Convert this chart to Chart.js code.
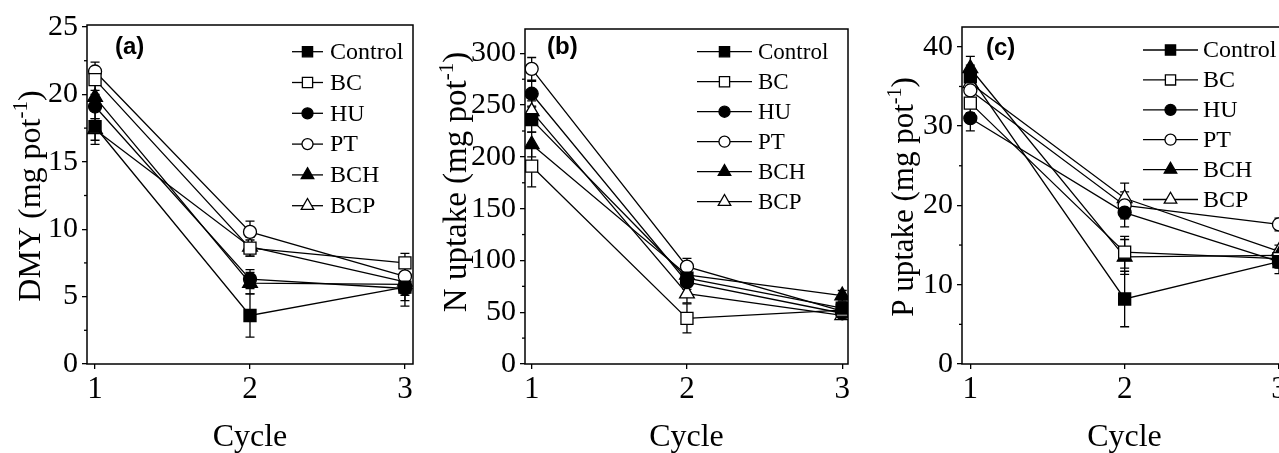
<!DOCTYPE html>
<html>
<head>
<meta charset="utf-8">
<script src="https://cdn.jsdelivr.net/npm/chart.js@4.4.0/dist/chart.umd.min.js"></script>
<style>
    html, body { margin: 0; padding: 0; background: #fff; overflow: hidden; width: 1279px; height: 453px; }
    .panel { position: absolute; top: 0; }
</style>
</head>
<body>
<div class="panel" style="left:0px"><canvas id="chartA" width="430" height="453"></canvas></div>
<div class="panel" style="left:430px"><canvas id="chartB" width="430" height="453"></canvas></div>
<div class="panel" style="left:860px"><canvas id="chartC" width="440" height="453"></canvas></div>
<script>
// cycles on the x axis
const cycles = [1, 2, 3];
const seriesNames = ['Control', 'BC', 'HU', 'PT', 'BCH', 'BCP'];

// (a) dry matter yield, rows follow seriesNames
const dmyValues = [
    [17.6, 3.6, 5.7],
    [21.1, 8.6, 7.5],
    [19.1, 6.3, 5.6],
    [21.7, 9.8, 6.5],
    [19.8, 6.0, 5.9],
    [17.4, 8.7, 6.1]
];
const dmyErrors = [
    [1.3, 1.6, 1.4],
    [0.8, 0.6, 0.7],
    [0.9, 0.7, 0.5],
    [0.7, 0.8, 0.6],
    [0.9, 0.8, 1.2],
    [0.8, 0.7, 0.6]
];
const dmyTicks = [0, 5, 10, 15, 20, 25];

// (b) N uptake
const nValues = [
    [236, 83, 54],
    [191, 44, 52],
    [261, 79, 49],
    [285, 94, 51],
    [212, 86, 66],
    [244, 68, 47]
];
const nErrors = [
    [12, 8, 6],
    [20, 14, 5],
    [12, 7, 4],
    [11, 8, 4],
    [12, 8, 5],
    [10, 9, 4]
];
const nTicks = [0, 50, 100, 150, 200, 250, 300];

// (c) P uptake
const pValues = [
    [36.2, 8.2, 12.9],
    [32.9, 14.1, 13.3],
    [31.0, 19.1, 12.9],
    [34.5, 20.0, 17.6],
    [37.3, 13.5, 13.7],
    [35.4, 20.9, 14.2]
];
const pErrors = [
    [1.5, 3.5, 1.5],
    [1.2, 2.0, 0.8],
    [1.6, 1.8, 0.8],
    [1.2, 1.7, 0.8],
    [1.5, 2.2, 0.8],
    [1.2, 1.9, 0.8]
];
const pTicks = [0, 10, 20, 30, 40];

const SERIF = "'Liberation Serif', 'Times New Roman', serif";
const SANS = "'Liberation Sans', Arial, sans-serif";
const INK = '#000';

// marker look per series
const markerStyles = [
    { style: 'rect', fill: INK, radius: 8.5 },
    { style: 'rect', fill: '#fff', radius: 8.5 },
    { style: 'circle', fill: INK, radius: 6.5 },
    { style: 'circle', fill: '#fff', radius: 6.5 },
    { style: 'triangle', fill: INK, radius: 8.5 },
    { style: 'triangle', fill: '#fff', radius: 8.5 }
];

function drawMarker(ctx, m, x, y, scale) {
    ctx.save();
    ctx.fillStyle = m.fill;
    ctx.strokeStyle = INK;
    ctx.lineWidth = 1.3;
    const r = m.radius * scale;
    if (Chart.helpers && Chart.helpers.drawPoint) {
        Chart.helpers.drawPoint(ctx, { pointStyle: m.style, radius: r, borderWidth: 1.3, rotation: 0 }, x, y);
    } else {
        ctx.beginPath();
        ctx.arc(x, y, r, 0, Math.PI * 2);
        ctx.fill(); ctx.stroke();
    }
    ctx.restore();
}

// error bars, minor ticks, frame, titles and legend
const decorPlugin = {
    id: 'decor',
    beforeDatasetsDraw(chart) {
        const cfg = chart.options.plugins.decor;
        const ctx = chart.ctx;
        const ys = chart.scales.y;
        ctx.save();
        ctx.strokeStyle = INK;
        ctx.lineWidth = 1.3;
        cfg.errors.forEach((errRow, i) => {
            const meta = chart.getDatasetMeta(i);
            errRow.forEach((e, j) => {
                const v = cfg.values[i][j];
                const x = meta.data[j].x;
                const y1 = ys.getPixelForValue(v - e);
                const y2 = ys.getPixelForValue(v + e);
                ctx.beginPath();
                ctx.moveTo(x, y1); ctx.lineTo(x, y2);
                ctx.moveTo(x - 4.5, y1); ctx.lineTo(x + 4.5, y1);
                ctx.moveTo(x - 4.5, y2); ctx.lineTo(x + 4.5, y2);
                ctx.stroke();
            });
        });
        ctx.restore();
    },
    afterDraw(chart) {
        const cfg = chart.options.plugins.decor;
        const ctx = chart.ctx;
        const a = chart.chartArea;
        const ys = chart.scales.y;
        ctx.save();
        // frame
        ctx.strokeStyle = INK;
        ctx.lineWidth = 1.5;
        ctx.strokeRect(a.left, a.top, a.right - a.left, a.bottom - a.top);
        // minor ticks between major ones
        ctx.lineWidth = 1.3;
        for (let k = 0; k < cfg.ticks.length - 1; k++) {
            const yy = ys.getPixelForValue((cfg.ticks[k] + cfg.ticks[k + 1]) / 2);
            ctx.beginPath();
            ctx.moveTo(a.left - 3, yy); ctx.lineTo(a.left, yy);
            ctx.stroke();
        }
        ctx.fillStyle = INK;
        // x title
        ctx.font = '32px ' + SERIF;
        ctx.textAlign = 'center';
        ctx.textBaseline = 'alphabetic';
        ctx.fillText('Cycle', (a.left + a.right) / 2, 446);
        // y title with superscript
        const mainSize = cfg.yTitleSize;
        const supSize = Math.round(mainSize * 0.65);
        ctx.font = mainSize + 'px ' + SERIF;
        const wMain = ctx.measureText(cfg.yTitle).width;
        const wClose = ctx.measureText(')').width;
        ctx.font = supSize + 'px ' + SERIF;
        const wSup = ctx.measureText('-1').width;
        const total = wMain + wSup + wClose;
        ctx.translate(cfg.yTitleX, cfg.yTitleY + total / 2);
        ctx.rotate(-Math.PI / 2);
        ctx.textAlign = 'left';
        ctx.font = mainSize + 'px ' + SERIF;
        ctx.fillText(cfg.yTitle, 0, 0);
        ctx.font = supSize + 'px ' + SERIF;
        ctx.fillText('-1', wMain, -mainSize * 0.4);
        ctx.font = mainSize + 'px ' + SERIF;
        ctx.fillText(')', wMain + wSup, 0);
        ctx.restore();

        ctx.save();
        // panel label
        ctx.fillStyle = INK;
        ctx.font = 'bold 24px ' + SANS;
        ctx.textAlign = 'left';
        ctx.textBaseline = 'middle';
        ctx.fillText(cfg.label, cfg.labelX, cfg.labelY);
        // legend
        const lg = cfg.legend;
        ctx.font = lg.size + 'px ' + SERIF;
        seriesNames.forEach((name, i) => {
            const y = lg.top + lg.step * i;
            ctx.strokeStyle = INK;
            ctx.lineWidth = 1.3;
            ctx.beginPath();
            ctx.moveTo(lg.x1, y); ctx.lineTo(lg.x2, y);
            ctx.stroke();
            drawMarker(ctx, markerStyles[i], (lg.x1 + lg.x2) / 2, y, 0.85);
            ctx.fillStyle = INK;
            ctx.fillText(name, lg.textX, y + 1);
        });
        ctx.restore();
    }
};

function makePanel(id, p) {
    const datasets = seriesNames.map((name, i) => ({
        label: name,
        data: p.values[i].map((v, j) => ({ x: cycles[j], y: v })),
        borderColor: INK,
        borderWidth: 1.3,
        pointStyle: markerStyles[i].style,
        pointRadius: markerStyles[i].radius,
        pointBackgroundColor: markerStyles[i].fill,
        pointBorderColor: INK,
        pointBorderWidth: 1.3,
        tension: 0,
        fill: false
    }));
    return new Chart(document.getElementById(id), {
        type: 'line',
        data: { datasets: datasets },
        options: {
            responsive: false,
            devicePixelRatio: 1,
            animation: false,
            layout: { padding: { left: 0, top: p.padTop, right: p.padRight, bottom: 0 } },
            plugins: {
                legend: { display: false },
                tooltip: { enabled: false },
                decor: {
                    values: p.values, errors: p.errors, ticks: p.ticks,
                    yTitle: p.yTitle, yTitleSize: p.yTitleSize, yTitleX: p.yTitleX, yTitleY: p.yTitleY,
                    label: p.label, labelX: p.labelX, labelY: p.labelY,
                    legend: p.legend
                }
            },
            scales: {
                x: {
                    type: 'linear',
                    min: p.xMin, max: p.xMax,
                    afterBuildTicks: s => { s.ticks = cycles.map(v => ({ value: v })); },
                    afterFit: s => { s.height = 89; },
                    grid: { drawOnChartArea: false, drawTicks: true, tickLength: 5, color: INK, lineWidth: 1.3 },
                    border: { display: false },
                    ticks: { color: INK, font: { family: SERIF, size: 31 }, padding: 2, maxRotation: 0 }
                },
                y: {
                    min: 0, max: p.yMax,
                    afterBuildTicks: s => { s.ticks = p.ticks.map(v => ({ value: v })); },
                    afterFit: s => { s.width = p.yAxisWidth; },
                    grid: { drawOnChartArea: false, drawTicks: true, tickLength: 5, color: INK, lineWidth: 1.3 },
                    border: { display: false },
                    ticks: { color: INK, font: { family: SERIF, size: 30 }, padding: 4 }
                }
            }
        },
        plugins: [decorPlugin]
    });
}

makePanel('chartA', {
    values: dmyValues, errors: dmyErrors, ticks: dmyTicks,
    yMax: 25.15, xMin: 0.948, xMax: 3.052,
    yAxisWidth: 87, padTop: 25, padRight: 17,
    yTitle: 'DMY (mg pot', yTitleSize: 32, yTitleX: 40, yTitleY: 196,
    label: '(a)', labelX: 115, labelY: 47,
    legend: { x1: 292, x2: 323, textX: 330, top: 51.7, step: 30.8, size: 24 }
});

makePanel('chartB', {
    values: nValues, errors: nErrors, ticks: nTicks,
    yMax: 323.5, xMin: 0.957, xMax: 3.037,
    yAxisWidth: 95, padTop: 29, padRight: 12,
    yTitle: 'N uptake (mg pot', yTitleSize: 33, yTitleX: 36, yTitleY: 182,
    label: '(b)', labelX: 117, labelY: 47.5,
    legend: { x1: 267, x2: 322, textX: 328, top: 51.7, step: 30, size: 23 }
});

makePanel('chartC', {
    values: pValues, errors: pErrors, ticks: pTicks,
    yMax: 42.5, xMin: 0.946, xMax: 3.052,
    yAxisWidth: 102, padTop: 27, padRight: 13,
    yTitle: 'P uptake (mg pot', yTitleSize: 31, yTitleX: 53, yTitleY: 197,
    label: '(c)', labelX: 126, labelY: 48.5,
    legend: { x1: 283, x2: 338, textX: 343, top: 50, step: 29.9, size: 24 }
});
</script>
</body>
</html>
